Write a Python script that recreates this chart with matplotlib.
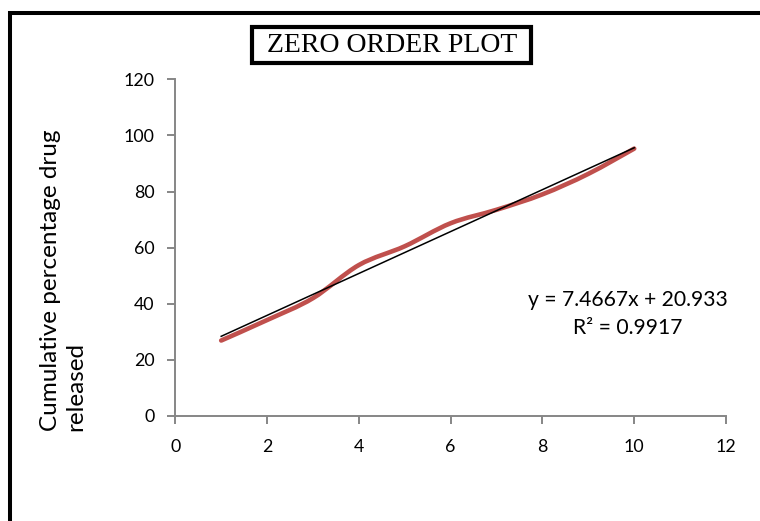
import numpy as np
import matplotlib.pyplot as plt
from matplotlib.path import Path
from matplotlib.patches import PathPatch, Rectangle

# datos
tiempo = [1, 2, 3, 4, 5, 6, 7, 8, 9, 10]
liberado = [26.9, 34.2, 42.0, 53.8, 60.5, 68.7, 73.5, 79.0, 86.3, 95.3]
pendiente = 7.4667
intercepto = 20.933
r2 = 0.9917
xticks = [0, 2, 4, 6, 8, 10, 12]
yticks = [0, 20, 40, 60, 80, 100, 120]

W, H = 760, 521
fig = plt.figure(figsize=(W / 100, H / 100), dpi=100)
fig.patch.set_facecolor('white')

# ejes en pixeles
x0, x1 = 175.3, 726.0
y0, y1 = 416.0, 79.3
ax = fig.add_axes([x0 / W, 1 - y0 / H, (x1 - x0) / W, (y0 - y1) / H])
ax.set_xlim(0, 12)
ax.set_ylim(0, 120)

# linea suavizada tipo Excel (bezier catmull-rom)
pts = np.column_stack([tiempo, liberado])
p = np.vstack([pts[0], pts, pts[-1]])
verts = [tuple(pts[0])]
codes = [Path.MOVETO]
for i in range(1, len(p) - 2):
    c1 = p[i] + (p[i + 1] - p[i - 1]) / 6
    c2 = p[i + 1] - (p[i + 2] - p[i]) / 6
    verts += [tuple(c1), tuple(c2), tuple(p[i + 1])]
    codes += [Path.CURVE4] * 3
curva = PathPatch(Path(verts, codes), facecolor='none', edgecolor='#C0504D',
                  lw=3.3, capstyle='round', joinstyle='round', zorder=2)
ax.add_patch(curva)

# linea de tendencia
xt = np.array([tiempo[0], tiempo[-1]])
ax.plot(xt, pendiente * xt + intercepto, color='black', lw=1.1, zorder=3)

for s in ['top', 'right']:
    ax.spines[s].set_visible(False)
for s in ['left', 'bottom']:
    ax.spines[s].set_color('#868686')
    ax.spines[s].set_linewidth(1.4)
ax.set_xticks(xticks)
ax.set_yticks(yticks)
ax.tick_params(axis='both', direction='out', length=5.8, width=1.4,
               color='#868686', labelsize=12.8, labelcolor='black')
ax.tick_params(axis='y', pad=9.0)
ax.tick_params(axis='x', pad=11.0)
for lab in ax.get_xticklabels() + ax.get_yticklabels():
    lab.set_family('Lato')

# etiqueta eje y
fig.text(63 / W, 1 - 431 / H, 'Cumulative percentage drug\nreleased',
         rotation=90, ha='center', va='bottom', multialignment='left',
         family='Lato', fontsize=17.5, linespacing=1.23)

# ecuacion
fig.text(628 / W, 1 - 314 / H,
         'y = %.4fx + %.3f\nR² = %.4f' % (pendiente, intercepto, r2),
         ha='center', va='center', multialignment='center',
         family='Lato', fontsize=15.2, linespacing=1.45)

# titulo con recuadro
fig.patches.append(Rectangle((252 / W, 1 - 63 / H), 279 / W, 36 / H,
                             transform=fig.transFigure, fill=False,
                             edgecolor='black', lw=3.0))
fig.text(392 / W, 1 - 46 / H, 'ZERO ORDER PLOT', ha='center', va='center',
         family='Liberation Serif', fontsize=20)

# borde exterior
fig.patches.append(Rectangle((10.3 / W, -0.1), 1.1, 1 - 13 / H + 0.1,
                             transform=fig.transFigure, fill=False,
                             edgecolor='black', lw=2.9))

fig.savefig('out.png', dpi=100)
